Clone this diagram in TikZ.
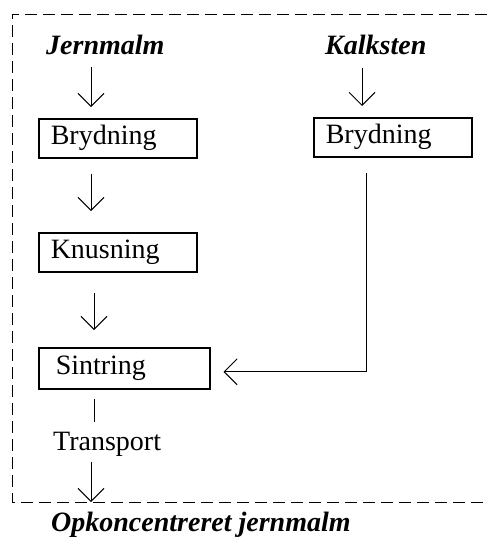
\documentclass[tikz,border=0pt]{standalone}
\usepackage{fontspec}
\setmainfont{Liberation Serif}
\usetikzlibrary{arrows.meta,calc}
\newcommand{\flowsize}{\fontsize{28pt}{32pt}\selectfont}
\tikzset{
  box/.style={draw, line width=1.5pt, anchor=north west, minimum height=39pt,
    align=left, inner xsep=12pt, inner ysep=0pt, font=\flowsize},
  label/.style={inner sep=0pt, anchor=base west, font=\flowsize},
  arr/.style={line width=0.9pt, -{Straight Barb[length=13pt,width=26pt,line width=0.9pt]}},
  link/.style={line width=0.9pt},
  frame/.style={line width=1pt, dash pattern=on 12pt off 6pt}
}
\begin{document}
\begin{tikzpicture}[x=1pt,y=-1pt]
\useasboundingbox (0,0) rectangle (487,546);

% dashed frame, open on the right
\coordinate (frameNW) at (12,14);
\coordinate (frameSW) at (12,502);
\draw[frame] (487,14) -- (frameNW) -- (frameSW) -- (487,502);

% column positions of the vertical connectors
\coordinate (colA) at (91,0);
\coordinate (colB) at (362,0);
\coordinate (colC) at (366,0);
\coordinate (colD) at (94,0);

% raw materials
\node[label, font=\flowsize\bfseries\itshape] (jern) at (46,54) {Jernmalm};
\node[label, font=\flowsize\bfseries\itshape] (kalk) at (325,54) {Kalksten};

% process steps
\node[box, text width=134pt] (bryd1) at (38,118) {Brydning};
\node[box, text width=134pt] (bryd2) at (313,117) {Brydning};
\node[box, text width=134pt] (knus) at (38,232) {Knusning};
\node[box, text width=137pt, inner xsep=17pt, minimum height=41pt] (sint) at (38,347) {Sintring};
\node[label] (trans) at (53,450) {Transport};

% product
\node[label, font=\flowsize\bfseries\itshape] (prod) at (51,531) {Opkoncentreret jernmalm};

% connectors
\draw[arr, shorten <=13pt, shorten >=11pt] (jern.base -| colA) -- (bryd1.north -| colA);
\draw[arr, shorten <=14pt, shorten >=11pt] (kalk.base -| colB) -- (bryd2.north -| colB);
\draw[arr, shorten <=15pt, shorten >=21pt] (bryd1.south -| colA) -- (knus.north -| colA);
\draw[arr, shorten <=20pt, shorten >=17pt] (knus.south -| colD) -- (sint.north -| colD);
\draw[arr, shorten <=15pt, shorten >=13pt] (bryd2.south -| colC) |- ([yshift=-3.5pt]sint.east);
\draw[link, shorten <=9pt, shorten >=9pt] (sint.south -| colD) -- (trans.north -| colD);
\draw[arr, shorten <=6pt] (trans.south -| colA) -- (frameSW -| colA);
\end{tikzpicture}
\end{document}
